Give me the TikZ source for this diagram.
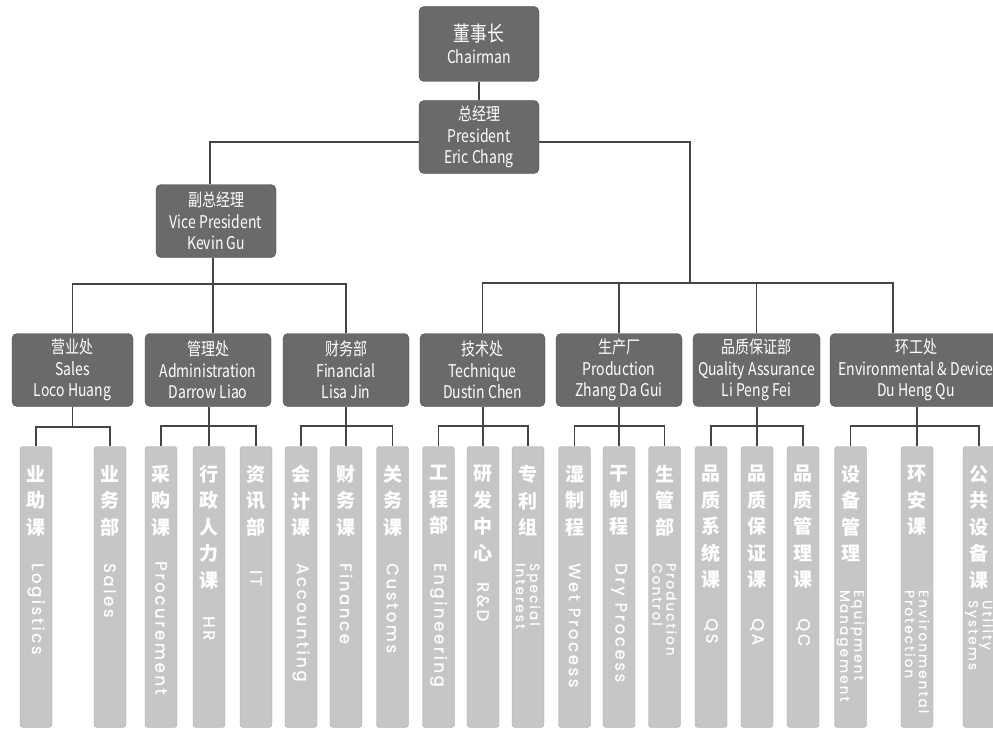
\documentclass[tikz,border=0pt]{standalone}
\usepackage{fontspec}
\setmainfont{Noto Sans CJK SC}
\newfontfamily\cnd[FakeStretch=0.8]{Noto Sans CJK SC}
\newfontfamily\pop[LetterSpace=16,FakeBold=0.6]{Poppins}
\definecolor{boxfill}{HTML}{6A6A6A}
\definecolor{boxline}{HTML}{4A4A4A}
\definecolor{barfill}{HTML}{C6C6C6}
\definecolor{barline}{HTML}{A8A8A8}
\definecolor{linec}{HTML}{454545}
\tikzset{
  boss/.style={draw=boxline, fill=boxfill, rounded corners=5pt, text=white,
    font=\cnd\fontsize{17.5}{21.5}\selectfont, align=center, inner sep=0pt,
    minimum width=120pt, minimum height=73pt},
  barbox/.style={draw=barline, fill=barfill, rounded corners=3pt,
    minimum width=32pt, minimum height=281pt, inner sep=0pt},
  barcn/.style={text=white, font=\fontsize{19}{26.5}\selectfont\bfseries, align=center, inner sep=0pt},
  baren/.style={text=white, font=\pop\fontsize{16.5}{16.5}\selectfont, rotate=-90,
    inner sep=0pt, anchor=west, align=left},
  twoline/.style={font=\pop\fontsize{13.5}{14}\selectfont},
  link/.style={draw=linec, line width=1.2pt},
}
\newcommand\subbar[6]{%
  \node[barbox] (#1) at (#2,587) {};
  \node[barcn, anchor=north] (#1c) at (#2,465) {#3};
  \node[baren, #6] (#1e) at (#2,#5) {#4};
}
\begin{document}
\begin{tikzpicture}[x=1pt,y=-1pt]
\useasboundingbox (0,0) rectangle (993,733);
% top level
\node[boss, minimum height=75pt] (chair) at (479,44) {{\fontsize{21}{27}\selectfont 董事长}\\Chairman};
\node[boss] (pres) at (479,137) {总经理\\President\\Eric Chang};
\node[boss] (vp) at (216,221) {副总经理\\Vice President\\Kevin Gu};
% departments
\node[boss, minimum width=121pt] (sales) at (72.5,370) {营业处\\Sales\\Loco Huang};
\node[boss, minimum width=126pt] (adm) at (208,370) {管理处\\Administration\\Darrow Liao};
\node[boss, minimum width=126pt] (fin) at (346,370) {财务部\\Financial\\Lisa Jin};
\node[boss, minimum width=125pt] (tech) at (482.5,370) {技术处\\Technique\\Dustin Chen};
\node[boss, minimum width=126pt] (prod) at (619,370) {生产厂\\Production\\Zhang Da Gui};
\node[boss, minimum width=127pt] (qa) at (756.5,370) {品质保证部\\Quality Assurance\\Li Peng Fei};
\node[boss, minimum width=172pt] (env) at (916,370) {环工处\\Environmental \& Device\\Du Heng Qu};
% sub bars
\subbar{b11}{36}{业\\助\\课}{Logistics}{563}{}
\subbar{b12}{110}{业\\务\\部}{Sales}{563}{}
\subbar{b21}{161}{采\\购\\课}{Procurement}{561}{}
\subbar{b22}{209}{行\\政\\人\\力\\课}{HR}{616}{}
\subbar{b23}{256}{资\\讯\\部}{IT}{570}{}
\subbar{b31}{301}{会\\计\\课}{Accounting}{563}{}
\subbar{b32}{346}{财\\务\\课}{Finance}{563}{}
\subbar{b33}{392.5}{关\\务\\课}{Customs}{563}{}
\subbar{b41}{438.5}{工\\程\\部}{Engineering}{563}{}
\subbar{b42}{483}{研\\发\\中\\心}{R\&D}{582}{}
\subbar{b43}{528}{专\\利\\组}{Special\\Interest}{563}{twoline}
\subbar{b51}{574.5}{湿\\制\\程}{Wet Process}{563}{}
\subbar{b52}{619}{干\\制\\程}{Dry Process}{563}{}
\subbar{b53}{664.5}{生\\管\\部}{Production\\Control}{563}{twoline}
\subbar{b61}{711}{品\\质\\系\\统\\课}{QS}{618}{}
\subbar{b62}{757}{品\\质\\保\\证\\课}{QA}{618}{}
\subbar{b63}{803}{品\\质\\管\\理\\课}{QC}{618}{}
\subbar{b71}{850.5}{设\\备\\管\\理}{Equipment\\Management}{590}{twoline}
\subbar{b72}{917}{环\\安\\课}{Environmental\\Protection}{590}{twoline}
\subbar{b73}{979}{公\\共\\设\\备\\课}{Utility\\Systems}{600}{twoline}
% connectors, upper levels
\draw[link] (chair) -- (pres);
\draw[link] ([yshift=-5pt]pres.west) -| ([xshift=-6pt]vp.north);
\coordinate (rj) at (690,283);
\coordinate (lj) at (213,284);
\draw[link] ([yshift=-5pt]pres.east) -| (rj);
\draw[link] (tech.north) |- (rj) -| ([xshift=-23pt]env.north);
\draw[link] (prod.north) -- (prod.north |- rj);
\draw[link] (qa.north) -- (qa.north |- rj);
\draw[link] (lj |- vp.south) -- (lj |- adm.north);
\draw[link] (sales.north) |- (lj) -| (fin.north);
% connectors to sub bars
\draw[link] (sales.south) -- (sales.south |- 0,427);
\draw[link] (b11.north) -- (b11.north |- 0,427) -- (b12.north |- 0,427) -- (b12.north);
\foreach \d/\a/\m/\z in {adm/b21/b22/b23, fin/b31/b32/b33, tech/b41/b42/b43, prod/b51/b52/b53, qa/b61/b62/b63, env/b71/b72/b73}{
  \draw[link] (\m.north |- \d.south) -- (\m.north);
  \draw[link] (\a.north) -- (\a.north |- 0,426) -- (\z.north |- 0,426) -- (\z.north);
}
\end{tikzpicture}
\end{document}
